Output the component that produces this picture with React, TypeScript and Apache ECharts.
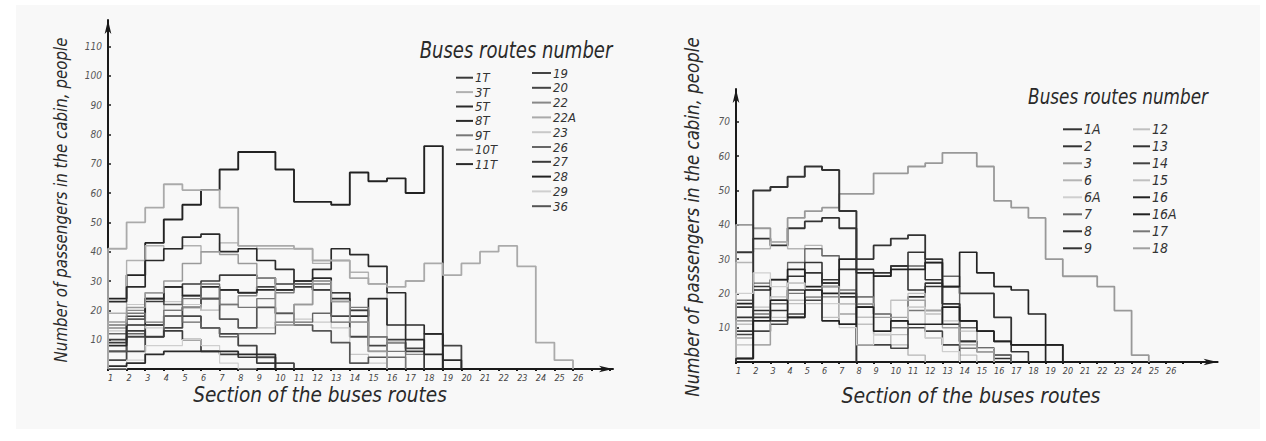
import { useEffect, useRef } from 'react';
import * as echarts from 'echarts';

// ---------- tick labels ----------
const SECTION_LABELS = ['1','2','3','4','5','6','7','8','9','10','11','12','13','14','15','16','17','18','19','20','21','22','23','24','25','26'];
const LEFT_Y_TICKS = [10, 20, 30, 40, 50, 60, 70, 80, 90, 100, 110];
const RIGHT_Y_TICKS = [10, 20, 30, 40, 50, 60, 70];

// ---------- left chart: passengers per section ----------
const L_1T = [10, 18, 23, 28, 29, 30, 32, 32, 31, 29, 28, 27, 26, 20, 11, 10, 6];
const L_3T = [19, 37, 42, 41, 42, 40, 43, 42, 41, 41, 41, 36, 37, 33, 29];
const L_5T = [23, 28, 37, 41, 45, 46, 40, 41, 37, 34, 30, 34, 41, 39, 35, 26, 15, 12];
const L_8T = [8, 15, 24, 28, 25, 28, 27, 26, 27, 27, 30, 31, 24, 18, 24, 15, 10, 5, 3];
const L_9T = [15, 19, 16, 20, 24, 29, 22, 21, 24, 26, 29, 29, 23, 21, 11, 6];
const L_10T = [16, 21, 26, 30, 36, 40, 39, 36, 31, 15, 22, 30, 23, 16, 6];
const L_11T = [1, 2, 5, 6, 6, 6, 6, 5, 5];
const L_19 = [3, 6, 11, 14, 18, 14, 12, 8, 4, 2];
const L_20 = [6, 11, 15, 18, 21, 24, 27, 26, 28, 27, 29, 27, 18, 11, 8, 9, 7, 12, 8];
const L_22 = [14, 20, 26, 20, 21, 20, 22, 25, 31, 19, 22, 30, 26, 16, 6, 9, 5];
const L_22A = [41, 50, 55, 63, 61, 61, 55, 42, 42, 42, 41, 37, 37, 31, 29, 28, 30, 36, 32, 36, 40, 42, 35, 9, 3];
const L_23 = [13, 22, 14, 23, 22, 20, 17, 14, 14, 15, 17, 16, 14, 5, 2];
const L_26 = [12, 12, 11, 18, 16, 14, 11, 12, 12, 16, 16, 19, 16, 20, 6, 4];
const L_27 = [9, 13, 11, 13, 10, 6, 5, 4, 2];
const L_28 = [24, 32, 43, 51, 56, 61, 68, 74, 74, 68, 57, 57, 56, 67, 64, 65, 60, 76];
const L_29 = [0, 3, 8, 8, 10, 8, 2, 0];
const L_36 = [6, 17, 24, 22, 25, 24, 17, 14, 21, 19, 15, 13, 9, 2, 4];

// ---------- right chart: passengers per section ----------
const R_1A = [1, 50, 51, 54, 57, 56, 44];
const R_2 = [32, 36, 34, 39, 41, 42, 39, 30, 34, 36, 37, 30, 22, 20, 20, 13, 5, 5, 5];
const R_3 = [40, 39, 35, 42, 44, 45, 49, 49, 55, 55, 57, 58, 61, 61, 57, 47, 45, 42, 30, 25, 25, 22, 15, 2];
const R_6 = [29, 33, 35, 33, 34, 31, 17, 13, 8, 5, 2];
const R_6A = [20, 26, 22, 23, 19, 17, 10, 5, 8, 12, 16, 7, 3];
const R_7 = [18, 23, 24, 29, 33, 31, 27, 19, 25, 28, 28, 29, 25, 10, 4];
const R_8 = [16, 22, 18, 25, 29, 23, 27, 27, 26, 28, 32, 24, 17, 6, 4, 1];
const R_9 = [13, 13, 15, 21, 26, 23, 20, 17, 14, 12, 19, 22, 17, 12, 9, 6, 3];
const R_12 = [11, 16, 19, 18, 19, 22, 17, 13, 8, 8, 16, 7, 5, 2];
const R_13 = [9, 15, 12, 13, 19, 24, 19, 16, 25, 28, 21, 23, 11, 6, 4, 2];
const R_14 = [8, 9, 11, 14, 18, 22, 11, 5, 5, 4, 10, 9, 5];
const R_15 = [5, 5, 13, 17, 17, 13, 17, 11, 14, 18, 20, 14, 12, 9, 4];
const R_16 = [17, 21, 24, 27, 22, 20, 30, 26, 25, 27, 27, 29, 22, 32, 26, 22, 21, 14];
const R_16A = [1, 12, 18, 13, 21, 12, 11, 16, 9, 12, 11, 11, 16, 12, 9, 6, 5, 5, 5];
const R_17 = [12, 14, 17, 20, 21, 19, 21, 19, 14, 10, 15, 15, 16, 4, 3, 2];
const R_18 = [7, 5, 18, 23, 21, 22, 14, 17, 13, 13, 18, 15, 10, 5, 3];

const LEFT_NAMES_COL1 = ['1T', '3T', '5T', '8T', '9T', '10T', '11T'];
const LEFT_NAMES_COL2 = ['19', '20', '22', '22A', '23', '26', '27', '28', '29', '36'];
const RIGHT_NAMES_COL1 = ['1A', '2', '3', '6', '6A', '7', '8', '9'];
const RIGHT_NAMES_COL2 = ['12', '13', '14', '15', '16', '16A', '17', '18'];

const LEFT_VALUES: Record<string, number[]> = {
  '1T': L_1T, '3T': L_3T, '5T': L_5T, '8T': L_8T, '9T': L_9T, '10T': L_10T, '11T': L_11T,
  '19': L_19, '20': L_20, '22': L_22, '22A': L_22A, '23': L_23, '26': L_26, '27': L_27,
  '28': L_28, '29': L_29, '36': L_36,
};
const RIGHT_VALUES: Record<string, number[]> = {
  '1A': R_1A, '2': R_2, '3': R_3, '6': R_6, '6A': R_6A, '7': R_7, '8': R_8, '9': R_9,
  '12': R_12, '13': R_13, '14': R_14, '15': R_15, '16': R_16, '16A': R_16A, '17': R_17, '18': R_18,
};

// styles (colour, width)
const STYLE: Record<string, [string, number]> = {
  '1T': ['#3a3a3a', 1.6], '3T': ['#b0b0b0', 1.4], '5T': ['#2a2a2a', 1.7], '8T': ['#2a2a2a', 1.7],
  '9T': ['#777777', 1.4], '10T': ['#9a9a9a', 1.5], '11T': ['#2a2a2a', 1.8],
  '19': ['#444444', 1.8], '20': ['#444444', 1.8], '22': ['#888888', 1.4], '22A': ['#aaaaaa', 1.8],
  '23': ['#c8c8c8', 1.2], '26': ['#666666', 1.4], '27': ['#3a3a3a', 1.7], '28': ['#222222', 1.9],
  '29': ['#cfcfcf', 1.2], '36': ['#555555', 1.7],
  '1A': ['#333333', 2.0], '2': ['#333333', 1.8], '3': ['#999999', 1.8], '6': ['#b5b5b5', 1.4],
  '6A': ['#cfcfcf', 1.3], '7': ['#666666', 1.4], '8': ['#333333', 1.6], '9': ['#333333', 1.6],
  '12': ['#c0c0c0', 1.3], '13': ['#333333', 1.6], '14': ['#444444', 1.6], '15': ['#c0c0c0', 1.3],
  '16': ['#222222', 1.7], '16A': ['#222222', 1.6], '17': ['#777777', 1.4], '18': ['#a0a0a0', 1.4],
};

const FONT = '"Liberation Sans Narrow", "DejaVu Sans Condensed", "Liberation Sans", sans-serif';

function stepData(vals: number[]): number[][] {
  const pts: number[][] = [[0, 0]];
  vals.forEach((v, i) => pts.push([i, v]));
  pts.push([vals.length, vals[vals.length - 1]]);
  pts.push([vals.length, 0]);
  return pts;
}

function makeSeries(name: string, vals: number[], idx: number) {
  const [color, width] = STYLE[name];
  return {
    type: 'line',
    name,
    xAxisIndex: idx,
    yAxisIndex: idx,
    step: 'end',
    showSymbol: false,
    symbol: 'none',
    color,
    lineStyle: { color, width },
    data: stepData(vals),
  };
}

function xAxisCfg(gridIndex: number, max: number) {
  return {
    type: 'value',
    gridIndex,
    min: 0,
    max,
    interval: 1,
    splitLine: { show: false },
    axisLine: {
      show: true,
      lineStyle: { color: '#1a1a1a', width: 2 },
      symbol: ['none', 'arrow'],
      symbolSize: [5, 14],
    },
    axisTick: { show: true, length: 2, lineStyle: { color: '#1a1a1a', width: 2 } },
    axisLabel: {
      formatter: (v: number) => {
        const i = Math.round(v);
        return Math.abs(v - i) < 1e-6 && i >= 0 && i < SECTION_LABELS.length ? SECTION_LABELS[i] : '';
      },
      align: 'left',
      margin: 4,
      fontSize: 9,
      fontStyle: 'italic',
      fontFamily: FONT,
      color: '#444',
      showMaxLabel: false,
    },
  };
}

function yAxisCfg(gridIndex: number, max: number, ticks: number[]) {
  return {
    type: 'value',
    gridIndex,
    min: 0,
    max,
    interval: 10,
    splitLine: { show: false },
    axisLine: {
      show: true,
      lineStyle: { color: '#1a1a1a', width: 2 },
      symbol: ['none', 'arrow'],
      symbolSize: [5, 14],
    },
    axisTick: { show: true, inside: true, length: 3, lineStyle: { color: '#1a1a1a', width: 1.5 } },
    axisLabel: {
      formatter: (v: number) => (ticks.indexOf(v) >= 0 ? String(v) : ''),
      margin: 6,
      fontSize: 10,
      fontStyle: 'italic',
      fontFamily: FONT,
      color: '#555',
      showMaxLabel: false,
    },
  };
}

function legendCfg(names: string[], left: number, top: number, itemWidth: number, fontSize: number, lineHeight: number, gap: number) {
  return {
    data: names,
    orient: 'vertical',
    left,
    top,
    padding: 0,
    itemWidth,
    itemHeight: 2,
    itemGap: gap,
    icon: 'rect',
    selectedMode: false,
    textStyle: { fontSize, lineHeight, fontStyle: 'italic', fontFamily: FONT, color: '#333', padding: [0, 0, 0, -3] },
  };
}

function titleText(text: string, x: number, y: number, size: number, rotate: boolean, sx: number) {
  return {
    type: 'text',
    x,
    y,
    rotation: rotate ? Math.PI / 2 : 0,
    scaleX: sx,
    z: 10,
    style: {
      text,
      font: `italic ${size}px ${FONT}`,
      fill: '#2a2a2a',
      align: 'center',
      verticalAlign: 'middle',
    },
  };
}

export default function App() {
  const ref = useRef<HTMLDivElement>(null);
  useEffect(() => {
    if (!ref.current) return;
    const chart = echarts.init(ref.current, null, { renderer: 'svg' });
    const series: any[] = [];
    Object.keys(LEFT_VALUES).forEach((n) => series.push(makeSeries(n, LEFT_VALUES[n], 0)));
    Object.keys(RIGHT_VALUES).forEach((n) => series.push(makeSeries(n, RIGHT_VALUES[n], 1)));
    const option: any = {
      animation: false,
      backgroundColor: '#ffffff',
      grid: [
        { left: 108, top: 20, width: 505, height: 349 },
        { left: 736, top: 89, width: 481.6, height: 273 },
      ],
      xAxis: [xAxisCfg(0, 27.15), xAxisCfg(1, 28)],
      yAxis: [yAxisCfg(0, 119, LEFT_Y_TICKS), yAxisCfg(1, 79.6, RIGHT_Y_TICKS)],
      legend: [
        legendCfg(LEFT_NAMES_COL1, 456, 70.7, 17, 13, 14, 0.4),
        legendCfg(LEFT_NAMES_COL2, 532, 66, 19, 13, 14, 0.8),
        legendCfg(RIGHT_NAMES_COL1, 1063, 121.3, 19, 14, 16, 1),
        legendCfg(RIGHT_NAMES_COL2, 1133, 121.3, 17, 14, 16, 1),
      ],
      graphic: [
        { type: 'rect', z: -100, shape: { x: 16, y: 5, width: 1244, height: 424 }, style: { fill: '#f8f8f8' } },
        titleText('Number of passengers in the cabin, people', 61, 200, 18, true, 0.93),
        titleText('Number of passengers in the cabin, people', 692, 217, 19.5, true, 0.95),
        titleText('Section of the buses routes', 320, 395, 21, false, 0.98),
        titleText('Section of the buses routes', 971, 396, 21, false, 1.0),
        titleText('Buses routes number', 516, 50, 23, false, 0.87),
        titleText('Buses routes number', 1118, 97, 21, false, 0.89),
      ],
      series,
    };
    chart.setOption(option);
    return () => chart.dispose();
  }, []);
  return (
    <div
      ref={ref}
      style={{ position: 'absolute', left: 0, top: 0, width: 1266, height: 441, background: '#ffffff' }}
    />
  );
}
